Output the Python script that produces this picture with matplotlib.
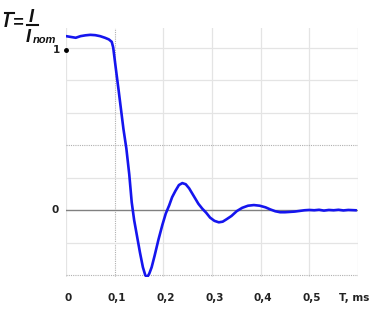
import matplotlib
matplotlib.use("Agg")
import matplotlib.pyplot as plt
from matplotlib.lines import Line2D

# relative current I/I_nom vs time (ms)
t_ms = [0.0, 0.01, 0.02, 0.03, 0.04, 0.05, 0.06, 0.07, 0.08, 0.088, 0.094, 0.097,
        0.102, 0.108, 0.113, 0.118, 0.124, 0.130, 0.135, 0.140, 0.146, 0.152,
        0.158, 0.163, 0.167, 0.171, 0.176, 0.182, 0.190, 0.198, 0.205, 0.212,
        0.218, 0.225, 0.232, 0.239, 0.246, 0.253, 0.262, 0.272, 0.280, 0.288,
        0.296, 0.305, 0.314, 0.322, 0.330, 0.340, 0.351, 0.362, 0.374, 0.386,
        0.398, 0.410, 0.420, 0.430, 0.440, 0.450, 0.460, 0.470, 0.480, 0.490,
        0.500, 0.510, 0.520, 0.530, 0.540, 0.550, 0.560, 0.570, 0.580, 0.595]
i_rel = [1.07, 1.065, 1.06, 1.07, 1.075, 1.078, 1.076, 1.07, 1.06, 1.05, 1.035, 1.0,
         0.88, 0.74, 0.62, 0.50, 0.38, 0.22, 0.05, -0.06, -0.16, -0.26,
         -0.35, -0.40, -0.41, -0.39, -0.35, -0.28, -0.18, -0.09, -0.02, 0.03,
         0.08, 0.12, 0.155, 0.167, 0.16, 0.135, 0.09, 0.04, 0.01, -0.015,
         -0.045, -0.065, -0.074, -0.07, -0.055, -0.035, -0.005, 0.015, 0.028, 0.032,
         0.028, 0.018, 0.005, -0.006, -0.012, -0.012, -0.01, -0.008, -0.004, 0.0,
         0.002, 0.0, 0.003, -0.002, 0.002, 0.0, 0.003, -0.001, 0.002, 0.0]

x_ticks = [0.0, 0.1, 0.2, 0.3, 0.4, 0.5]
x_labels = ["0", "0,1", "0,2", "0,3", "0,4", "0,5"]

W, H = 383, 309
fig = plt.figure(figsize=(W / 100, H / 100), dpi=100)
ax = fig.add_axes([66 / W, 32 / H, 292 / W, 249 / H])


def fxy(x, y):
    return x / W, 1 - y / H


# grid
for x in x_ticks + [0.6]:
    if x == 0.1:
        ax.axvline(x, color="#b0b0b0", lw=0.8, ls=(0, (1, 1)), zorder=0)
    else:
        ax.axvline(x, color="#e4e4e4", lw=0.9, zorder=0)
for y in [-0.4, -0.2, 0.2, 0.4, 0.6, 0.8, 1.0]:
    if y in (0.4, -0.4):
        ax.axhline(y, color="#b0b0b0", lw=0.8, ls=(0, (1, 1)), zorder=0)
    else:
        ax.axhline(y, color="#e4e4e4", lw=0.9, zorder=0)
ax.axhline(0, color="#808080", lw=1.0, zorder=1)

ax.plot(t_ms, i_rel, color="#1515ee", lw=1.9, zorder=3)
ax.plot([0.0], [0.985], "o", color="black", ms=2.5, clip_on=False, zorder=4)

ax.set_xlim(0, 0.6)
ax.set_ylim(-0.41, 1.12)
for s in ax.spines.values():
    s.set_visible(False)
ax.set_xticks([])
ax.set_yticks([])

lab_kw = dict(ha="center", va="center", fontsize=7.5, fontweight="bold",
              color="#222222")
for x, lab in zip(x_ticks, x_labels):
    ax.text(x + 0.005, -0.54, lab, **lab_kw)
ax.text(0.592, -0.54, "T, ms", **lab_kw)
ax.text(-0.012, 0.985, "1", ha="right", va="center", fontsize=7.5,
        fontweight="bold", color="#222222")
ax.text(-0.015, 0.0, "0", ha="right", va="center", fontsize=7.5,
        fontweight="bold", color="#222222")

# axis title: I-bar = I / I_nom
tkw = dict(family="Liberation Sans", fontsize=13, fontweight="bold",
           fontstyle="italic", color="#111111", va="baseline")
fig.text(*fxy(4, 27), "I", ha="left", **tkw)
fig.add_artist(Line2D([5 / W, 14 / W], [1 - 13 / H, 1 - 13 / H],
                      color="#111111", lw=1.5))
fig.text(*fxy(13, 27), "=", ha="left", **tkw)
fig.text(*fxy(31, 22), "I", ha="center", **tkw)
fig.add_artist(Line2D([27 / W, 38 / W], [1 - 24.5 / H, 1 - 24.5 / H],
                      color="#111111", lw=1.5))
fig.text(*fxy(26, 42), "I", ha="left", **tkw)
fig.text(*fxy(33, 43), "nom", ha="left", family="Liberation Sans",
         fontsize=8, fontweight="bold", fontstyle="italic",
         color="#111111", va="baseline")

fig.savefig("out.png", dpi=100)
